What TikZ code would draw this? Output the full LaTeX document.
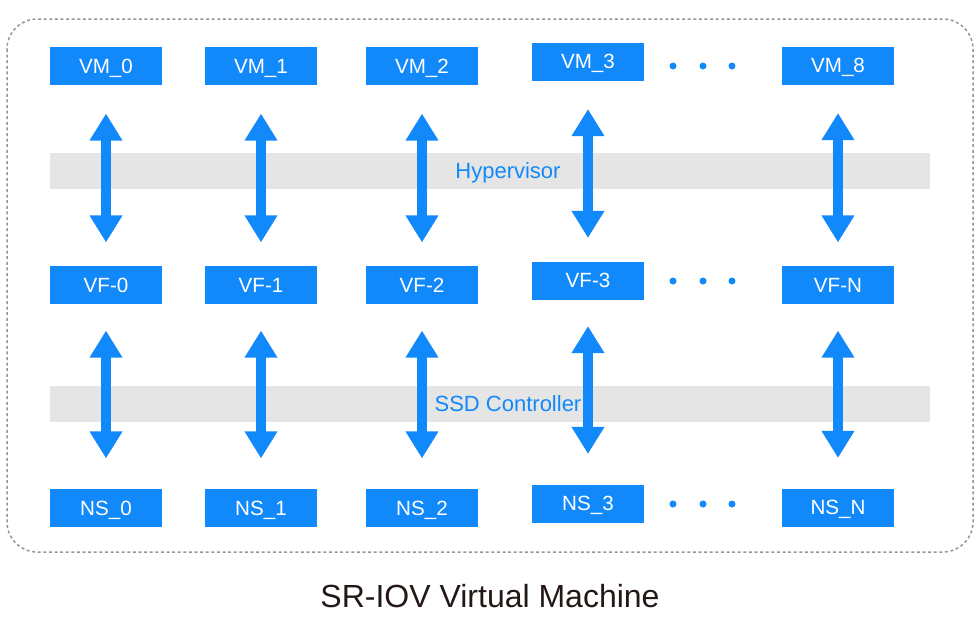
\documentclass[tikz,border=0pt]{standalone}
\usepackage{fontspec}
\setmainfont{Liberation Sans}
\usepackage{xcolor}
\usetikzlibrary{arrows.meta}
\usetikzlibrary{positioning}
\definecolor{boxblue}{RGB}{18,137,250}
\definecolor{bandgray}{RGB}{229,229,229}
\definecolor{framegray}{RGB}{150,150,150}
\definecolor{titleblack}{RGB}{35,24,21}

\begin{document}
\begin{tikzpicture}[
				x=0.5pt, y=-0.5pt,
				line width=0.2mm,
				block/.style={fill=boxblue, text=white, minimum width=56pt, minimum height=19pt, inner sep=0pt, text height=7.4pt, text depth=0pt, font=\fontsize{10.3}{12}\selectfont},
				band/.style={fill=bandgray},
				bandlabel/.style={text=boxblue, inner sep=1pt, text height=7.9pt, text depth=0pt, font=\fontsize{11}{13}\selectfont},
				biarrow/.style={draw=boxblue, line width=4.6pt, {Triangle[width=15.5pt,length=13.5pt]}-{Triangle[width=15.5pt,length=13.5pt]}},
				uparrow/.style={biarrow, shorten <=14pt, shorten >=11.5pt},
				lowarrow/.style={biarrow, shorten <=13pt, shorten >=15pt},
				dot/.style={fill=boxblue},
			]
				\useasboundingbox (0,0) rectangle (980,633);
				\draw[framegray, line width=0.75pt, dash pattern=on 1.5pt off 1.3pt, rounded corners=15pt] (7,19) rectangle (973,552);
				
				\fill[band] (50,153) rectangle (930,189);
				\fill[band] (50,386) rectangle (930,422);
				\node (hyp) [bandlabel] at (508,171) {Hypervisor};
				\node (ssd) [bandlabel] at (508,404) {SSD Controller};
				
				\node (vm0) [block] at (106,66) {VM\_0};
				\node (vm1) [block] at (261,66) {VM\_1};
				\node (vm2) [block] at (422,66) {VM\_2};
				\node (vm3) [block] at (588,61.5) {VM\_3};
				\node (vm8) [block] at (838,65.5) {VM\_8};
				
				\node (vf0) [block] at (106,285) {VF-0};
				\node (vf1) [block] at (261,285) {VF-1};
				\node (vf2) [block] at (422,285) {VF-2};
				\node (vf3) [block] at (588,280.5) {VF-3};
				\node (vfn) [block] at (838,285) {VF-N};
				
				\node (ns0) [block] at (106,508) {NS\_0};
				\node (ns1) [block] at (261,508) {NS\_1};
				\node (ns2) [block] at (422,508) {NS\_2};
				\node (ns3) [block] at (588,503.5) {NS\_3};
				\node (nsn) [block] at (838,507.5) {NS\_N};
				
				\fill[dot] (673,66) circle (1.75pt) (703,66) circle (1.75pt) (732,66) circle (1.75pt);
				\fill[dot] (673,281) circle (1.75pt) (703,281) circle (1.75pt) (732,281) circle (1.75pt);
				\fill[dot] (673,504) circle (1.75pt) (703,504) circle (1.75pt) (732,504) circle (1.75pt);
				
				\draw[uparrow] (vm0) -- (vf0);
				\draw[uparrow] (vm1) -- (vf1);
				\draw[uparrow] (vm2) -- (vf2);
				\draw[uparrow] (vm3) -- (vf3);
				\draw[uparrow] (vm8) -- (vfn);
				
				\draw[lowarrow] (vf0) -- (ns0);
				\draw[lowarrow] (vf1) -- (ns1);
				\draw[lowarrow] (vf2) -- (ns2);
				\draw[lowarrow] (vf3) -- (ns3);
				\draw[lowarrow] (vfn) -- (nsn);
				
				\node (title) [text=titleblack, font=\fontsize{16}{19}\selectfont] at (490,596) {SR-IOV Virtual Machine};
			\end{tikzpicture}
\end{document}
